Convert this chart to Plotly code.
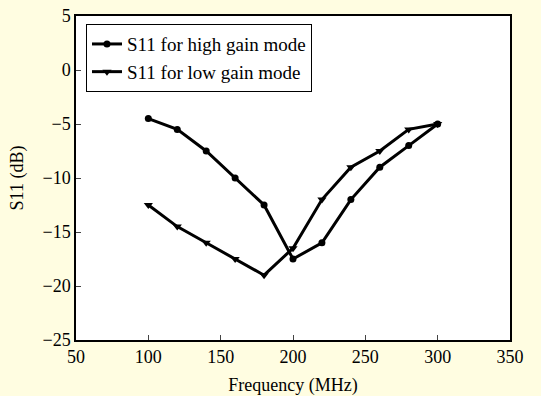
import plotly.graph_objects as go

freq = [100, 120, 140, 160, 180, 200, 220, 240, 260, 280, 300]
s11_high = [-4.5, -5.5, -7.5, -10, -12.5, -17.5, -16, -12, -9, -7, -5]
s11_low = [-12.5, -14.5, -16, -17.5, -19, -16.5, -12, -9, -7.5, -5.5, -5]
x_ticks = [50, 100, 150, 200, 250, 300, 350]
y_ticks = [-25, -20, -15, -10, -5, 0, 5]

font = "Liberation Serif, Times New Roman, serif"

fig = go.Figure()
fig.add_trace(go.Scatter(x=freq, y=s11_high, mode="lines+markers",
                         name="S11 for high gain mode",
                         line=dict(color="black", width=3),
                         marker=dict(symbol="circle", size=7, color="black")))
fig.add_trace(go.Scatter(x=freq, y=s11_low, mode="lines+markers",
                         name="S11 for low gain mode",
                         line=dict(color="black", width=3),
                         marker=dict(symbol="triangle-down", size=8, color="black")))

fig.update_layout(
    width=541, height=396,
    margin=dict(l=76, r=31, t=16, b=56),
    paper_bgcolor="#FFFDE1", plot_bgcolor="white",
    font=dict(family=font, size=16, color="black"),
    showlegend=True,
    legend=dict(x=0.023, y=0.975, xanchor="left", yanchor="top",
                bgcolor="white", bordercolor="black", borderwidth=1,
                font=dict(family=font, size=19), tracegroupgap=0,
                itemwidth=30),
)
fig.update_xaxes(range=[50, 350], tickvals=x_ticks, ticks="inside", ticklen=5,
                 showline=True, linecolor="black", linewidth=1.5, mirror=True,
                 showgrid=False, zeroline=False, automargin=False,
                 title=dict(text="Frequency (MHz)", standoff=12, font=dict(size=18)),
                 tickfont=dict(size=18))
fig.update_yaxes(range=[-25, 5], tickvals=y_ticks, ticks="inside", ticklen=5,
                 showline=True, linecolor="black", linewidth=1.5, mirror=True,
                 showgrid=False, zeroline=False, automargin=False,
                 title=dict(text="S11 (dB)", standoff=14, font=dict(size=18)),
                 tickfont=dict(size=18))

fig.write_html("out.html", config={"displayModeBar": False},
               post_script="document.body.style.margin='0px';")
